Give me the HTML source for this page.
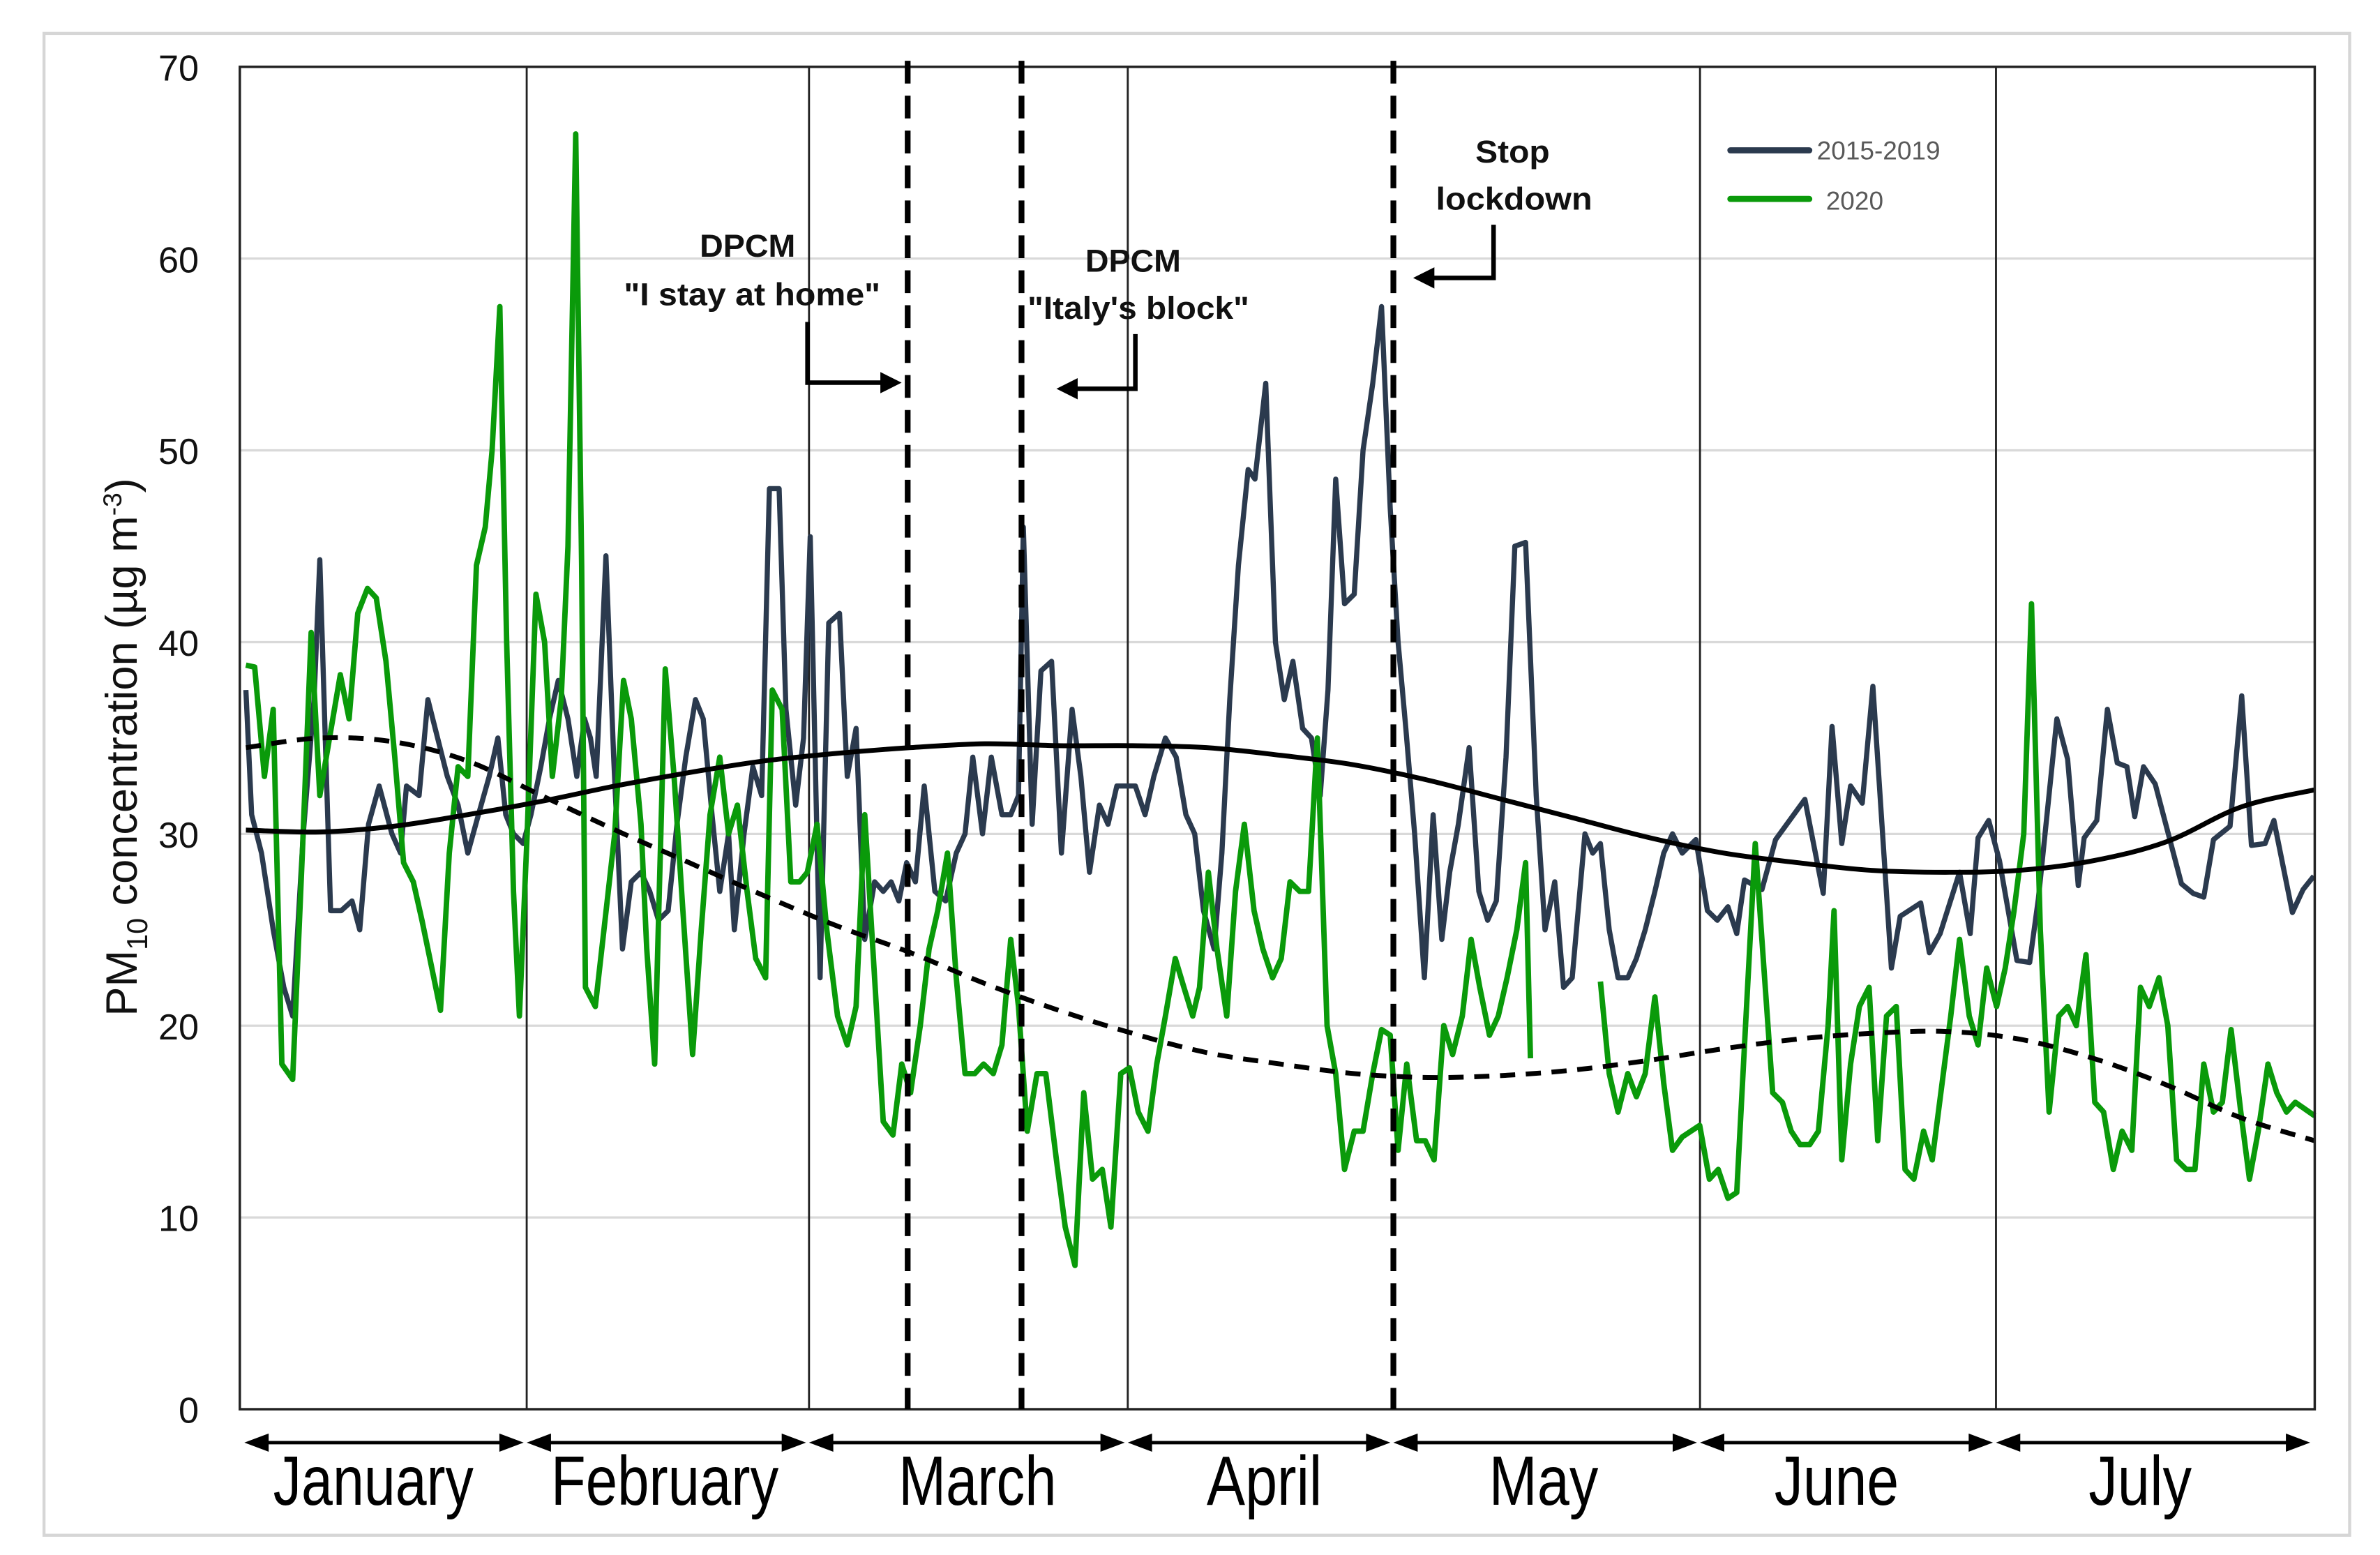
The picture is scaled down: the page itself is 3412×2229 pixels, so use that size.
<!DOCTYPE html>
<html><head><meta charset="utf-8"><title>PM10 concentration chart</title>
<style>
html,body{margin:0;padding:0;background:#fff;}
svg{display:block;}
text{font-family:"Liberation Sans",Arial,sans-serif;}
</style></head>
<body>
<svg id="chart" width="3412" height="2229" viewBox="0 0 1568 1024" preserveAspectRatio="none" xmlns="http://www.w3.org/2000/svg">
  <rect x="29" y="22" width="1519" height="989" fill="#fff" stroke="#d6d6d6" stroke-width="2"/>
  <g id="grid"></g>
  <g id="months"></g>
  <g id="series"></g>
  <rect x="158" y="44" width="1367" height="884" fill="none" stroke="#222" stroke-width="1.6"/>
  <g id="events"></g>
  <g id="yaxis"></g>
  <text transform="translate(90,492) rotate(-90)" text-anchor="middle" font-size="29" fill="#111">PM<tspan font-size="19" dy="7">10</tspan><tspan dy="-7"> concentration (µg m</tspan><tspan font-size="17" dy="-10">-3</tspan><tspan dy="10">)</tspan></text>
  <g id="xaxis"></g>

  <g font-weight="bold" font-size="21" fill="#111">
    <text x="461" y="169" textLength="63" lengthAdjust="spacingAndGlyphs">DPCM</text>
    <text x="411" y="201" textLength="169" lengthAdjust="spacingAndGlyphs">"I stay at home"</text>
    <path d="M532,212 V252 H588" fill="none" stroke="#000" stroke-width="3"/>
    <path d="M594,252 L580,245 L580,259 Z" fill="#000"/>
  </g>
  <g font-weight="bold" font-size="21" fill="#111">
    <text x="715" y="179" textLength="63" lengthAdjust="spacingAndGlyphs">DPCM</text>
    <text x="677" y="210" textLength="146" lengthAdjust="spacingAndGlyphs">"Italy's block"</text>
    <path d="M748,220 V256 H702" fill="none" stroke="#000" stroke-width="3"/>
    <path d="M696,256 L710,249 L710,263 Z" fill="#000"/>
  </g>
  <g font-weight="bold" font-size="21" fill="#111">
    <text x="972" y="107" textLength="49" lengthAdjust="spacingAndGlyphs">Stop</text>
    <text x="946" y="138" textLength="103" lengthAdjust="spacingAndGlyphs">lockdown</text>
    <path d="M984,148 V183 H938" fill="none" stroke="#000" stroke-width="3"/>
    <path d="M931,183 L945,176 L945,190 Z" fill="#000"/>
  </g>

  <g>
    <g>
      <line x1="1140" y1="99" x2="1192" y2="99" stroke="#2b3a4e" stroke-width="4" stroke-linecap="round"/>
      <text x="1197" y="105" font-size="17" fill="#595959">2015-2019</text>
    </g>
    <g>
      <line x1="1140" y1="131" x2="1192" y2="131" stroke="#0a9a0a" stroke-width="4" stroke-linecap="round"/>
      <text x="1203" y="138" font-size="17" fill="#595959">2020</text>
    </g>
  </g>
</svg>
<script>
// ---- data ----
const yTicks = [0, 10, 20, 30, 40, 50, 60, 70];
const monthNames = ["January","February","March","April","May","June","July"];
const eventDays = [69, 81, 118];

const darkDays = [0,0.6,1.6,2.8,3.9,4.8,5.9,7,7.6,8.1,8.7,9.8,10.9,11.7,12.6,13.7,15,15.9,16.5,17.8,18.7,19.7,20.7,21.8,22.8,23.9,25,25.9,26.7,27.5,28.5,29.3,30.3,31.2,32.1,33.1,34,34.8,35.4,36,37,37.8,38.7,39.6,40.6,41.5,42.4,43.4,44.3,45.2,46.2,47,47.9,48.7,49.6,50.2,51.2,52.1,53,53.8,54.8,55.5,56.5,57.3,58,59,59.9,61,61.8,62.7,63.6,64.6,65.5,66.3,67.1,67.9,68.8,69.7,70.8,71.9,73,73.9,74.7,75.7,76.6,77.7,78.6,79.4,79.9,80.8,81.7,82.8,83.8,84.9,85.8,86.7,87.7,88.6,89.5,90.5,91.4,92.4,93.3,94.5,95.6,96.6,97.5,98.4,99.5,100.3,101.1,102,103,103.7,104.8,105.8,106.7,107.6,108.6,109.5,110.4,111.2,112,112.9,113.9,114.8,115.8,116.7,117.6,118.4,119.2,120.1,121.1,122,122.9,123.7,124.6,125.7,126.7,127.6,128.5,129.5,130.4,131.5,132.6,133.5,134.5,135.4,136.3,137.6,138.4,139.2,140.1,141,142,142.9,143.8,144.8,145.7,146.6,147.6,149,150.2,151.2,152.3,153.2,154,155.8,157.2,160.2,162.1,163,164,164.9,166.1,167.2,169.1,170,172.1,173,174.1,176.1,177.2,178,179.1,180.2,182,183.3,184.2,186.1,187.2,188.3,188.9,190.2,191.3,192.3,193.3,194.1,195,196.2,198.9,200.1,201.2,202.2,203.9,205.1,206.1,207.5,208.4,210.3,211.4,212.5];
const series2015_2019 = [37.5,31,29,25,22,20.5,30,37,44.3,36,26,26,26.5,25,30.5,32.5,30,29,32.5,32,37,35,33,31.5,29,31,33,35,31,30,29.5,31,33.5,36,38,36,33,36,35,33,44.5,34,24,27.5,28,27,25.5,26,30.5,34,37,36,31,27,30,25,30,33.5,32,48,48,36.5,31.5,35,45.5,22.5,41,41.5,33,35.5,24.5,27.5,27,27.5,26.5,28.5,27.5,32.5,27,26.5,29,30,34,30,34,31,31,32,46,30.5,38.5,39,29,36.5,33,28,31.5,30.5,32.5,32.5,32.5,31,33,35,34,31,30,26,24,29,37,44,49,48.5,53.5,40,37,39,35.5,35,32,37.5,48.5,42,42.5,50,53.5,57.5,47,40,35.5,30,22.5,31,24.5,28,30.5,34.5,27,25.5,26.5,34,45,45.2,32,25,27.5,22,22.5,30,29,29.5,25,22.5,22.5,23.5,25,27,29,30,29,29.7,26,25.5,26.2,24.8,27.6,27.1,29.7,31.8,26.9,35.6,29.5,32.5,31.6,37.7,23,25.7,26.4,23.8,24.8,28,24.8,29.8,30.7,28.6,23.4,23.3,26.6,36,33.9,27.3,29.8,30.7,36.5,33.7,33.5,30.9,33.5,32.6,27.4,26.9,26.7,29.7,30.4,37.2,29.4,29.5,30.7,25.9,27.1,27.8];

const greenDays = [0,0.9,1.9,2.8,3.7,4.8,5.8,6.7,7.6,8.6,9.7,10.6,11.5,12.5,13.4,14.4,15.3,16.2,17.2,18.1,19.1,20,20.9,21.8,22.8,23.7,24.6,25.3,26.1,26.8,27.5,28.1,28.9,29.8,30.7,31.5,32.4,33.1,33.9,34.5,34.9,35.9,36.8,37.9,38.8,39.6,40.6,41.2,42,43.1,44,44.9,45.9,46.8,47.7,48.7,49.6,50.5,51.5,52.4,53.4,54.1,55.1,56,56.9,57.7,58.7,59.7,60.8,61.8,62.7,63.6,64.6,65.5,66.5,67.4,68.3,69.3,70.2,71.1,72.1,73,73.9,74.9,75.8,76.8,77.7,78.6,79.4,80.3,81.3,82.2,83.3,84.2,85.2,86.1,87,88,88.9,89.9,90.8,91.7,92.7,93.6,94.5,95.5,96.4,97.3,98,98.9,99.8,100.8,101.7,102.6,103.6,104.5,105.5,106.4,107.3,108.3,109.2,110.1,111.1,112,112.9,113.9,114.8,115.8,116.7,117.6,118.4,119.3,120.3,121.2,122.1,123.1,124,125,125.9,126.8,127.8,128.7,129.6,130.6,131.5,132,135,139.2,140.1,141,142,142.9,143.8,144.8,145.7,146.6,147.6,148.5,149.4,150.4,151.3,152.3,153.2,154.1,155.1,156,156.9,157.9,158.8,159.7,160.7,161.6,162.6,163.2,164,164.9,165.8,166.8,167.7,168.6,169.6,170.5,171.4,172.4,173.3,174.3,175.2,176.1,177.1,178,178.9,179.9,180.8,181.7,182.7,183.5,184.4,185.3,186.3,187.2,188.1,189.1,190,190.9,191.9,192.8,193.8,194.7,195.6,196.6,197.5,198.4,199.4,200.3,201.2,202.2,203.1,204,205,205.9,206.8,207.8,208.7,209.7,210.6,212.6];
const series2020 = [38.8,38.7,33,36.5,18,17.2,29,40.5,32,35,38.3,36,41.5,42.8,42.3,39,34,28.5,27.5,25.5,23,20.8,29,33.5,33,44,46,50,57.5,40,27,20.5,30,42.5,40,33,37,45,66.5,44,22,21,25,30,38,36,30.5,24,18,38.6,33,26,18.5,25,31,34,30,31.5,27,23.5,22.5,37.5,36.5,27.5,27.5,28,30.5,25,20.5,19,21,31,22.5,15,14.3,18,16.5,20,24,26,29,22.5,17.5,17.5,18,17.5,19,24.5,21,14.5,17.5,17.5,13,9.5,7.5,16.5,12,12.5,9.5,17.5,17.8,15.5,14.5,18,20.5,23.5,22,20.5,22,28,24,20.5,27,30.5,26,24,22.5,23.5,27.5,27,27,35,20,17.5,12.5,14.5,14.5,17.5,19.8,19.5,13.5,18,14,14,13,20,18.5,20.5,24.5,22,19.5,20.5,22.5,25,28.5,18.3,null,22.3,17.5,15.5,17.5,16.3,17.5,21.5,17,13.5,14.2,14.5,14.8,12,12.5,11,11.3,20,29.5,23,16.5,16,14.5,13.8,13.8,14.5,20,26,13,18,21,22,14,20.5,21,12.5,12,14.5,13,17,20.5,24.5,20.5,19,23,21,23,26,30,42,25,15.5,20.5,21,20,23.7,16,15.5,12.5,14.5,13.5,22,21,22.5,20,13,12.5,12.5,18,15.5,16,19.8,15.5,12,14.5,18,16.5,15.5,16,15.3];

const trend2015_2019 = [30.2,30.1,30.4,31,31.7,32.5,33.2,33.8,34.2,34.5,34.7,34.6,34.6,34.5,34.1,33.6,32.8,31.8,30.8,29.8,29,28.5,28.1,28,28.1,28.6,29.6,31.4,32.3];
const trend2020 = [34.5,35,34.8,33.8,32,30.2,28.5,26.8,25.2,23.8,22.2,20.8,19.6,18.6,18,17.5,17.3,17.4,17.7,18.2,18.8,19.3,19.6,19.7,19.3,18.3,16.9,15.2,14];

// ---- axes ----
const NS = "http://www.w3.org/2000/svg";
const X0 = 158, X1 = 1525, Y0 = 928, Y1 = 44, YMAX = 70;
const DSTART = 162, DEND = 1525, DMAX = 212.6;
function yScale(v){ return Y0 - (v / YMAX) * (Y0 - Y1); }
function xDay(d){ return DSTART + (d / DMAX) * (DEND - DSTART); }
function idxScale(i, n){ return DSTART + (i / (n - 1)) * (DEND - DSTART); }
function mk(tag, attrs, parent){ const e = document.createElementNS(NS, tag); for (const k in attrs) e.setAttribute(k, attrs[k]); parent.appendChild(e); return e; }

const grid = document.getElementById('grid');
const yaxis = document.getElementById('yaxis');
yTicks.forEach(t => {
  if (t > 0 && t < 70) {
    const l = mk('line', {x1: X0, x2: X1, y1: yScale(t), y2: yScale(t), stroke: '#d9d9d9', 'stroke-width': 1.5}, grid);
    
    
  }
  const tx = mk('text', {x: 131, y: yScale(t) + 9, 'text-anchor': 'end', 'font-size': 24, fill: '#111'}, yaxis);
  tx.textContent = t;
  
  
});

const months = document.getElementById('months');
const dividerX = [347, 533, 743, 1120, 1315];
[1, 2, 3, 5, 6].forEach((m, k) => {
  const l = mk('line', {x1: dividerX[k], x2: dividerX[k], y1: Y1, y2: Y0, stroke: '#222', 'stroke-width': 1.3}, months);
  
  
});

const events = document.getElementById('events');
const eventX = [598, 673, 918];
eventDays.forEach((d, k) => {
  const l = mk('line', {x1: eventX[k], x2: eventX[k], y1: 40, y2: Y0, stroke: '#000', 'stroke-width': 3.8, 'stroke-dasharray': '15,8'}, events);
  
  
});

const xaxis = document.getElementById('xaxis');
const segBounds = [160, 346, 532, 742, 917, 1119, 1314, 1523];
const labelWidths = [132, 150, 104, 76, 72, 82, 68];
const labelCenters = [246, 438, 644, 833, 1017, 1210, 1410];
monthNames.forEach((m, i) => {
  const a = segBounds[i] + 1, b = segBounds[i + 1] - 1, y = 950;
  const g = mk('g', {}, xaxis);
  
  
  mk('line', {x1: a + 8, x2: b - 8, y1: y, y2: y, stroke: '#000', 'stroke-width': 2.2}, g);
  mk('path', {d: `M${a},${y} L${a + 16},${y - 6} L${a + 16},${y + 6} Z`, fill: '#000'}, g);
  mk('path', {d: `M${b},${y} L${b - 16},${y - 6} L${b - 16},${y + 6} Z`, fill: '#000'}, g);
  const t = mk('text', {x: labelCenters[i], y: 991, 'text-anchor': 'middle', 'font-size': 46, fill: '#000', textLength: labelWidths[i], lengthAdjust: 'spacingAndGlyphs'}, g);
  t.textContent = m;
  
  
});

const sl = document.getElementById('series');
function linePath(days, vals){
  let d = '', pen = false;
  vals.forEach((v, i) => {
    if (v === null) { pen = false; return; }
    d += (pen ? 'L' : 'M') + xDay(days[i]).toFixed(1) + ',' + yScale(v).toFixed(1) + ' ';
    pen = true;
  });
  return d;
}
function smoothPath(vals){
  const pts = vals.map((v, i) => [idxScale(i, vals.length), yScale(v)]);
  let d = 'M' + pts[0][0] + ',' + pts[0][1];
  for (let i = 0; i < pts.length - 1; i++) {
    const p0 = pts[Math.max(0, i - 1)], p1 = pts[i], p2 = pts[i + 1], p3 = pts[Math.min(pts.length - 1, i + 2)];
    const c1 = [p1[0] + (p2[0] - p0[0]) / 6, p1[1] + (p2[1] - p0[1]) / 6];
    const c2 = [p2[0] - (p3[0] - p1[0]) / 6, p2[1] - (p3[1] - p1[1]) / 6];
    d += ` C${c1[0]},${c1[1]} ${c2[0]},${c2[1]} ${p2[0]},${p2[1]}`;
  }
  return d;
}
const pDark = mk('path', {d: linePath(darkDays, series2015_2019), fill: 'none', stroke: '#2b3a4e', 'stroke-width': 3.4, 'stroke-linejoin': 'round'}, sl);


const pGreen = mk('path', {d: linePath(greenDays, series2020), fill: 'none', stroke: '#0a9a0a', 'stroke-width': 3.6, 'stroke-linejoin': 'round'}, sl);


const tDark = mk('path', {d: smoothPath(trend2015_2019), fill: 'none', stroke: '#000', 'stroke-width': 3.2}, sl);


const tGreen = mk('path', {d: smoothPath(trend2020), fill: 'none', stroke: '#000', 'stroke-width': 3.2, 'stroke-dasharray': '10,7'}, sl);


</script>
</body></html>
